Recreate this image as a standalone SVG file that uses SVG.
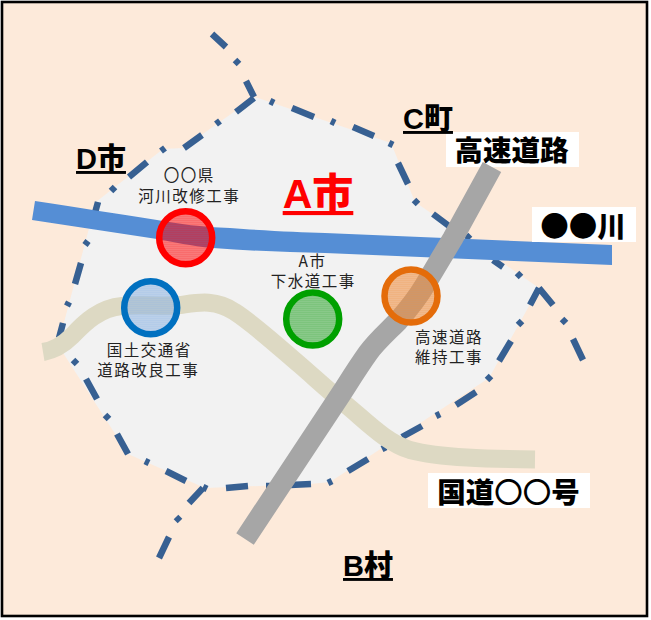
<svg xmlns="http://www.w3.org/2000/svg" width="651" height="620" viewBox="0 0 651 620">
<style>
.b{font-family:"Liberation Sans","Noto Sans CJK JP",sans-serif;font-weight:900;font-size:29px;fill:#000;text-anchor:middle;text-decoration:underline;text-decoration-thickness:1.5px;text-underline-offset:3px}
.w{font-family:"Noto Sans CJK JP",sans-serif;font-weight:900;font-size:28.5px;fill:#000;text-anchor:middle}
.s{font-family:"Noto Sans CJK JP",sans-serif;font-size:15.5px;letter-spacing:1.5px;fill:#222;text-anchor:middle}
.ring{stroke-width:6.5}
</style>
<defs>
<pattern id="pr" width="2" height="2" patternUnits="userSpaceOnUse"><rect width="2" height="2" fill="#ff0000" fill-opacity=".5"/><rect width="2" height="1" fill="#ff0000" fill-opacity=".1"/></pattern>
<pattern id="pb" width="2" height="2" patternUnits="userSpaceOnUse"><rect width="2" height="2" fill="#8db4e2" fill-opacity=".55"/><rect width="2" height="1" fill="#8db4e2" fill-opacity=".15"/></pattern>
<pattern id="pg" width="2" height="2" patternUnits="userSpaceOnUse"><rect width="2" height="2" fill="#33a833" fill-opacity=".55"/><rect width="2" height="1" fill="#33a833" fill-opacity=".15"/></pattern>
<pattern id="po" width="2" height="2" patternUnits="userSpaceOnUse"><rect width="2" height="2" fill="#ee8a3a" fill-opacity=".55"/><rect width="2" height="1" fill="#ee8a3a" fill-opacity=".15"/></pattern>
</defs>
<rect width="651" height="620" fill="#fff"/>
<rect x="2" y="2" width="645" height="614" fill="#FDEADA" stroke="#000" stroke-width="2.6"/>
<path id="area" fill="#F2F2F2" d="M255,97 L391,143 L415,202 L539,288 L489,378 L330,482 L310,484 L205,488 L128,454 L58,345 L96,202 L163,149 L183,148 Z"/>
<path id="boundary" fill="none" stroke="#376092" stroke-width="6.500" d="M212,34L226,47M235,60L239,64M246,81L254,97M254,98L236,112M216,124L220,121M202,135L184,148M165,148L161,151M147,162L129,177M115,187L111,191M98,202L93,220M88,241L85,245M81,263L75,284M69,302L67,306M63,323L59,338M73,360L77,364M86,379L97,399M105,415L109,419M117,434L128,454M145,461L149,463M166,471L186,481M203,487L207,489M226,488L248,486M266,486L270,486M290,485L311,484M328,483L332,481M348,471L368,459M382,449L386,447M402,437L422,426M436,416L440,414M456,405L476,392M487,380L491,376M499,361L511,341M518,325L522,321M530,305L539,288M539,288L553,305M562,319L566,323M573,339L583,360M517,273L521,277M493,260L503,267M466,235L470,239M433,214L449,226M414,200L418,204M398,163L408,184M389,143L393,145M353,127L374,136M331,121L335,123M292,108L314,117M270,101L274,103M203,488L189,503M176,517L180,521M169,537L159,558"/>
<path id="river" fill="#558ED5" d="M35,201 C80,208 120,214 157,220 C180,224 200,227 230,228 C270,231 300,232 325,233 L612,245 L612,265 L325,253 C290,252 250,251 213,248 C190,246 175,242 157,239 L32,220 Z"/>
<path id="national-road" fill="none" stroke="#DDD9C3" stroke-width="18" d="M43,352 C55,350 63,345 72,336 C85,322 100,308 122,306 C145,304 160,307 180,305 C195,303 215,298 235,312 C255,325 280,348 300,365 C315,378 330,392 345,404 C365,420 385,442 410,450 C440,458 490,459 535,459.500"/>
<g id="label-expressway"><rect x="446" y="132" width="133" height="35" fill="#fff"/><text class="w" x="511.500" y="161">高速道路</text></g>
<g id="label-river"><rect x="532" y="207" width="104" height="35" fill="#fff"/><text class="w" x="583" y="237">●●川</text></g>
<g id="label-national-road"><rect x="428" y="473" width="162" height="35" fill="#fff"/><text class="w" x="508.500" y="503">国道<tspan font-weight="500">〇〇</tspan>号</text></g>
<path id="expressway" fill="none" stroke="#A6A6A6" stroke-width="21" d="M492,167 L453,238 L425,285 C415,302 405,313 397,322 C385,334 375,343 368,353 C358,367 350,380 341,394 L245,539"/>
<g id="site-river"><circle class="ring" cx="185.700" cy="237.700" r="26.500" fill="url(#pr)" stroke="#FF0000"/><text class="s" x="189.200" y="181">〇〇県</text><text class="s" x="189.200" y="202">河川改修工事</text></g>
<g id="site-national"><circle class="ring" cx="150.700" cy="307.700" r="26.500" fill="url(#pb)" stroke="#0070C0"/><text class="s" x="149.200" y="356">国土交通省</text><text class="s" x="148.200" y="376">道路改良工事</text></g>
<g id="site-sewer"><circle class="ring" cx="312.700" cy="319" r="26.500" fill="url(#pg)" stroke="#00A000"/><text class="s" x="312.500" y="267">A市</text><text class="s" x="313.200" y="287">下水道工事</text></g>
<g id="site-expressway"><circle class="ring" cx="411" cy="296" r="26.500" fill="url(#po)" stroke="#E46C0A"/><text class="s" x="449" y="343">高速道路</text><text class="s" x="449" y="363">維持工事</text></g>
<text class="b" x="101" y="169">D市</text>
<text class="b" x="428" y="129">C町</text>
<text class="b" x="368" y="576">B村</text>
<text class="b" x="318" y="208" style="font-size:41px;fill:#FF0000;text-decoration-thickness:2px">A市</text>
</svg>
